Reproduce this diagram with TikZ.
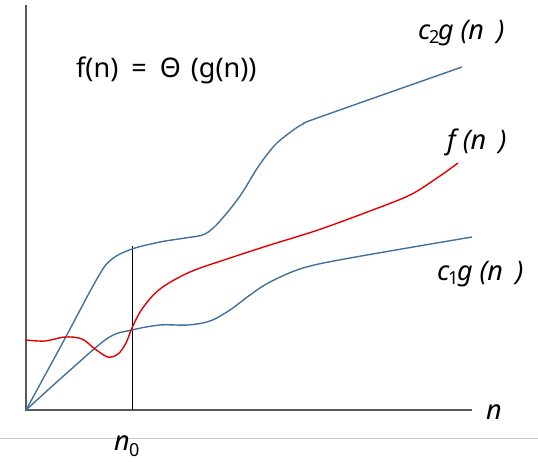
\documentclass[tikz,border=0pt]{standalone}
\usepackage{fontspec}
\setmainfont{Noto Sans}
\begin{document}
\begin{tikzpicture}[x=1pt,y=-1pt,
  axis/.style={draw=black!65, line width=1.1pt},
  bluecurve/.style={draw=curveblue, line width=1.4pt},
  redcurve/.style={draw=red!90!black, line width=1.4pt},
  lbl/.style={inner sep=0pt, font=\fontsize{27}{30}\selectfont\itshape},
  title/.style={inner sep=0pt, font=\fontsize{27}{30}\selectfont}]
\definecolor{curveblue}{HTML}{41719C}
\useasboundingbox (0,0) rectangle (538,461);
\draw[black!20, line width=0.8pt] (0,438) -- (538,438);
\coordinate (O) at (26,410);
\coordinate (ytop) at (26,5);
\coordinate (xend) at (472,410);
\coordinate (n0top) at (132,246);
\coordinate (n0bot) at (132,410);
\draw[axis] (ytop) -- (O) -- (xend);
\draw[black, line width=0.7pt] (n0top) -- (n0bot);
\draw[bluecurve] plot[smooth, tension=0.55] coordinates {(26,410) (62,344) (98,277) (112,259) (132,249) (160,242) (185,238) (205,234) (220,221) (240,196) (258,167) (275,145) (292,131) (303,124) (320,117) (462,67)};
\draw[bluecurve] plot[smooth, tension=0.55] coordinates {(26,410) (68,372) (108,338) (132,330) (160,325) (188,325) (210,321) (230,310) (250,295) (270,282) (303,268) (350,258) (472,237)};
\draw[redcurve] plot[smooth, tension=0.55] coordinates {(26,340) (45,341) (65,337) (82,339) (95,349) (108,357) (118,354) (126,343) (132,328) (142,309) (160,289) (190,272) (230,258) (270,245) (318,230) (370,211) (410,195) (437,178) (458,163)};
\node[title, anchor=west] (thetaeq) at (76,70) {f(n)\hspace{13pt}=\hspace{13pt}Θ\hspace{10pt}(g(n))};
\node[lbl, anchor=west] (c2lbl) at (418,33) {c\kern-0.05em\raisebox{-0.25ex}{\fontsize{18}{20}\selectfont\upshape 2}\kern-0.05em g (n\hspace{0.2em} )};
\node[lbl, anchor=west] (flbl) at (447,142) {f (n\hspace{0.2em} )};
\node[lbl, anchor=west] (c1lbl) at (437,274) {c\kern-0.05em\raisebox{-0.25ex}{\fontsize{18}{20}\selectfont\upshape 1}\kern-0.05em g (n\hspace{0.2em} )};
\node[lbl, anchor=west] (nlbl) at (486,412) {n};
\node[lbl, anchor=west] (n0lbl) at (114,446) {n\kern-0.03em\raisebox{-0.4ex}{\fontsize{18}{20}\selectfont\upshape 0}};
\end{tikzpicture}
\end{document}
